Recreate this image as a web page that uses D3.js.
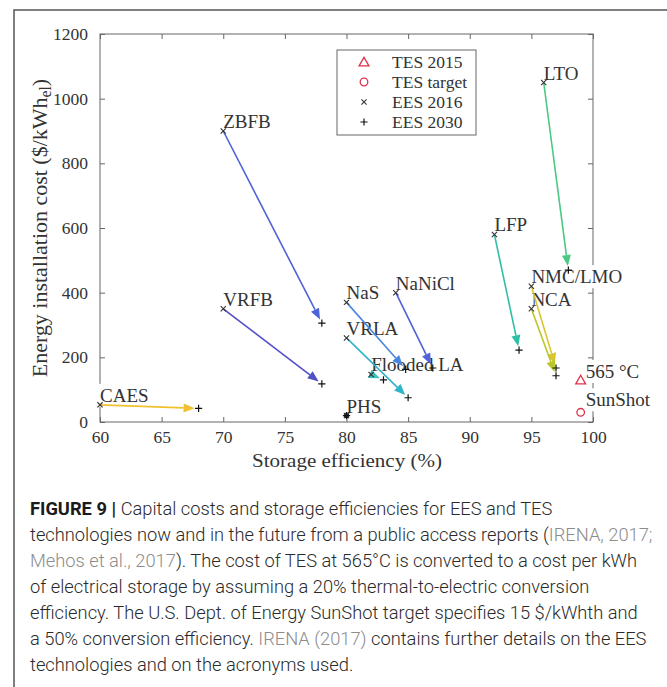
<!DOCTYPE html>
<html>
<head>
<meta charset="utf-8">
<script src="https://cdn.jsdelivr.net/npm/d3@7"></script>
<style>
  body { margin: 0; background: #fff; }
  svg { display: block; }
  .serif { font-family: "Liberation Serif", "Times New Roman", serif; fill: #333; }
  .cap { font-family: Roboto, "Liberation Sans", Arial, sans-serif; font-weight: 300; fill: #2a2a2a; }
</style>
</head>
<body>
<svg id="chart" width="667" height="687"></svg>
<script>
// technologies: 2016 -> 2030 (IRENA)
var tech     = ["CAES", "ZBFB", "VRFB", "NaS", "NaNiCl", "VRLA", "Flooded LA", "PHS", "LFP", "LTO", "NMC/LMO", "NCA"];
var eff2016  = [60, 70, 70, 80, 84, 80, 82, 80, 92, 96, 95, 95];
var cost2016 = [53, 900, 350, 370, 400, 260, 147, 20, 580, 1050, 420, 350];
var eff2030  = [68, 78, 78, 84.8, 87, 85, 83, 80, 94, 98, 97, 97];
var cost2030 = [42, 306, 118, 163, 167, 75, 130, 20, 222, 470, 167, 143];
var arrowColors = ["#f0c02e", "#4f63d9", "#5250c6", "#4a86e0", "#4e62dc", "#2fb3c9", "#35c2c0", "#222", "#2fbfa6", "#4ac982", "#d9c52f", "#b9c725"];

// thermal storage points
var tesLabel = ["565 \u00B0C", "SunShot"];
var tesEff   = [99, 99];
var tesCost  = [130, 30];
var tesShape = ["triangle", "circle"];

var xTicks = [60, 65, 70, 75, 80, 85, 90, 95, 100];
var yTicks = [0, 200, 400, 600, 800, 1000, 1200];
var legendLabels = ["TES 2015", "TES target", "EES 2016", "EES 2030"];
var legendShapes = ["triangle", "circle", "x", "plus"];

var captionLines = [
  [["FIGURE 9 | ", "b"], ["Capital costs and storage efficiencies for EES and TES", ""]],
  [["technologies now and in the future from a public access reports (", ""], ["IRENA, 2017;", "g"]],
  [["Mehos et al., 2017", "g"], ["). The cost of TES at 565\u00B0C is converted to a cost per kWh", ""]],
  [["of electrical storage by assuming a 20% thermal-to-electric conversion", ""]],
  [["efficiency. The U.S. Dept. of Energy SunShot target specifies 15 $/kWhth and", ""]],
  [["a 50% conversion efficiency. ", ""], ["IRENA (2017)", "g"], [" contains further details on the EES", ""]],
  [["technologies and on the acronyms used.", ""]]
];

var svg = d3.select("#chart");
var red = "#e0304a";
var axisCol = "#666";

// outer frame (left + top)
svg.append("path")
  .attr("d", "M14,687V10H667")
  .attr("fill", "none").attr("stroke", "#555").attr("stroke-width", 1.5);

var x = d3.scaleLinear().domain([60, 100]).range([100, 593]);
var y = d3.scaleLinear().domain([0, 1200]).range([422, 34]);

var g = svg.append("g");

// axes box + inward ticks
g.append("rect")
  .attr("x", x(60)).attr("y", y(1200))
  .attr("width", x(100) - x(60)).attr("height", y(0) - y(1200))
  .attr("fill", "none").attr("stroke", axisCol).attr("stroke-width", 1);

g.append("g").attr("transform", "translate(0," + y(0) + ")")
  .call(d3.axisBottom(x).tickValues(xTicks).tickSize(-5).tickPadding(9).tickFormat(d3.format("d")))
  .call(function(a) { a.select(".domain").remove(); });
g.append("g").attr("transform", "translate(0," + y(1200) + ")")
  .call(d3.axisTop(x).tickValues(xTicks).tickSize(-5).tickFormat(""))
  .call(function(a) { a.select(".domain").remove(); });
g.append("g").attr("transform", "translate(" + x(60) + ",0)")
  .call(d3.axisLeft(y).tickValues(yTicks).tickSize(-5).tickPadding(12).tickFormat(d3.format("d")))
  .call(function(a) { a.select(".domain").remove(); });
g.append("g").attr("transform", "translate(" + x(100) + ",0)")
  .call(d3.axisRight(y).tickValues(yTicks).tickSize(-5).tickFormat(""))
  .call(function(a) { a.select(".domain").remove(); });

g.selectAll(".tick line").attr("stroke", axisCol);
g.selectAll(".tick text")
  .attr("class", "serif")
  .style("font-family", '"Liberation Serif", serif')
  .style("font-size", "17.5px")
  .attr("fill", "#333");

// axis titles
svg.append("text").attr("class", "serif")
  .attr("x", 347).attr("y", 467)
  .attr("text-anchor", "middle")
  .style("font-size", "18px")
  .attr("textLength", 190).attr("lengthAdjust", "spacingAndGlyphs")
  .text("Storage efficiency (%)");

var yt = svg.append("text").attr("class", "serif")
  .attr("transform", "translate(47," + ((y(0) + y(1200)) / 2) + ") rotate(-90)")
  .attr("text-anchor", "middle")
  .style("font-size", "18px");
yt.append("tspan").text("Energy installation cost ($/kWh");
yt.append("tspan").attr("dy", 4).attr("class", "sub").text("el");
yt.append("tspan").attr("dy", -4).text(")");
// stretch to the length seen in the original (~303px)
var ytw = yt.node().getComputedTextLength();
var yfs = 18 * 303 / ytw;
yt.style("font-size", yfs + "px");
yt.select(".sub").style("font-size", (yfs * 0.72) + "px");

// point labels with white background (they mask the axis line)
function label(px, py, txt, dx, dy) {
  var lg = svg.append("g");
  var t = lg.append("text").attr("class", "serif")
    .attr("x", px + dx).attr("y", py + dy)
    .style("font-size", "19px").attr("fill", "#222")
    .text(txt);
  var b = t.node().getBBox();
  lg.insert("rect", "text")
    .attr("x", b.x - 1).attr("y", b.y - 1)
    .attr("width", b.width + 2).attr("height", b.height + 2)
    .attr("fill", "#fff");
}
tech.forEach(function(d, i) { label(x(eff2016[i]), y(cost2016[i]), d, 0, -3); });
tesLabel.forEach(function(d, i) { label(x(tesEff[i]), y(tesCost[i]), d, 5, i === 0 ? -2 : -6); });

// arrows 2016 -> 2030
var marks = svg.append("g");
tech.forEach(function(d, i) {
  var x0 = x(eff2016[i]), y0 = y(cost2016[i]);
  var x1 = x(eff2030[i]), y1 = y(cost2030[i]);
  var dx = x1 - x0, dy = y1 - y0, len = Math.sqrt(dx * dx + dy * dy);
  if (len < 1) {
    marks.append("circle").attr("cx", x0).attr("cy", y0).attr("r", 2.6).attr("fill", "#111");
    return;
  }
  var ux = dx / len, uy = dy / len;
  var tipX = x1 - ux * 4, tipY = y1 - uy * 4;
  var hl = 11, hw = 4.5;
  var bx = tipX - ux * hl, by = tipY - uy * hl;
  marks.append("line")
    .attr("x1", x0).attr("y1", y0).attr("x2", bx).attr("y2", by)
    .attr("stroke", arrowColors[i]).attr("stroke-width", 1.6);
  marks.append("path")
    .attr("d", "M" + tipX + "," + tipY +
      "L" + (bx - uy * hw) + "," + (by + ux * hw) +
      "L" + (bx + uy * hw) + "," + (by - ux * hw) + "Z")
    .attr("fill", arrowColors[i]);
});

function marker(sel, shape, cx, cy) {
  if (shape === "x") {
    var s = 2.6;
    sel.append("path").attr("d", "M" + (cx - s) + "," + (cy - s) + "L" + (cx + s) + "," + (cy + s) +
      "M" + (cx - s) + "," + (cy + s) + "L" + (cx + s) + "," + (cy - s))
      .attr("stroke", "#333").attr("stroke-width", 1.1).attr("fill", "none");
  } else if (shape === "plus") {
    var p = 3.6;
    sel.append("path").attr("d", "M" + (cx - p) + "," + cy + "H" + (cx + p) + "M" + cx + "," + (cy - p) + "V" + (cy + p))
      .attr("stroke", "#111").attr("stroke-width", 1.2).attr("fill", "none");
  } else if (shape === "triangle") {
    sel.append("path").attr("transform", "translate(" + cx + "," + (cy + 1) + ")")
      .attr("d", d3.symbol(d3.symbolTriangle, 42)())
      .attr("fill", "none").attr("stroke", red).attr("stroke-width", 1.3);
  } else {
    sel.append("circle").attr("cx", cx).attr("cy", cy).attr("r", 3.8)
      .attr("fill", "none").attr("stroke", red).attr("stroke-width", 1.3);
  }
}

tech.forEach(function(d, i) {
  marker(marks, "x", x(eff2016[i]), y(cost2016[i]));
  marker(marks, "plus", x(eff2030[i]), y(cost2030[i]));
});
tesEff.forEach(function(d, i) { marker(marks, tesShape[i], x(d), y(tesCost[i])); });

// legend
var lg = svg.append("g");
lg.append("rect").attr("x", 337).attr("y", 50).attr("width", 139).attr("height", 85)
  .attr("fill", "#fff").attr("stroke", axisCol).attr("stroke-width", 1);
legendLabels.forEach(function(d, i) {
  var ly = 62 + i * 20;
  marker(lg, legendShapes[i], 364, ly);
  lg.append("text").attr("class", "serif")
    .attr("x", 392).attr("y", ly + 5.5)
    .style("font-size", "17.5px").attr("fill", "#222")
    .text(d);
});

// caption
var cap = svg.append("g");
captionLines.forEach(function(line, i) {
  var t = cap.append("text").attr("class", "cap")
    .attr("x", 30).attr("y", 515 + i * 26)
    .style("font-size", "16.5px");
  line.forEach(function(seg) {
    var s = t.append("tspan").text(seg[0]);
    if (seg[1] === "b") s.style("font-weight", "bold").attr("fill", "#1a1a1a");
    if (seg[1] === "g") s.attr("fill", "#8c8c8c");
  });
});
// fit the longest line to the measured width of the original
var ref = cap.selectAll("text").nodes()[1];
var w = ref.getComputedTextLength();
cap.selectAll("text").style("font-size", (16.5 * 623 / w) + "px");
</script>
</body>
</html>
